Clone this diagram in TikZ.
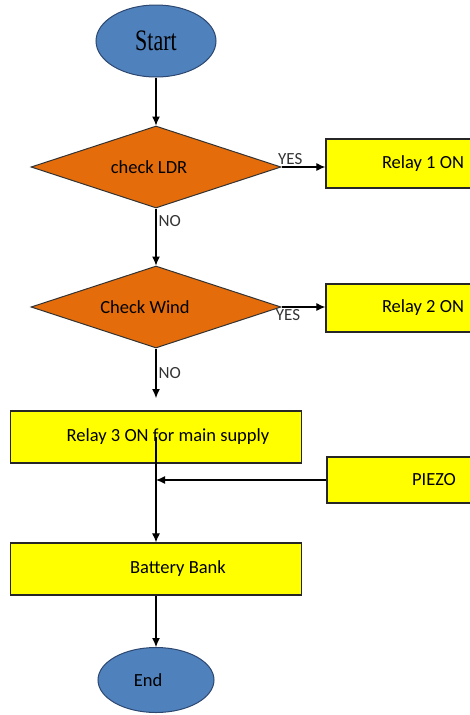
\documentclass[tikz,border=0pt]{standalone}
\usepackage{fontspec}
\setmainfont{Carlito}
\newfontfamily\startfont{Liberation Serif}
\usepackage{graphicx}
\usetikzlibrary{shapes.geometric,arrows.meta}
\definecolor{termblue}{HTML}{4F81BD}
\definecolor{termedge}{HTML}{2C4770}
\definecolor{deciorange}{HTML}{E46C0A}
\definecolor{boxyellow}{HTML}{FFFF00}
\newcommand\boxfont{\fontsize{18.5}{20}\selectfont}

\begin{document}
\begin{tikzpicture}[x=1pt, y=-1pt,
    terminal/.style={ellipse,draw=termedge,fill=termblue,line width=1pt,inner sep=0pt},
    decision/.style={diamond,draw=black!80,fill=deciorange,line width=1pt,inner sep=0pt,
      minimum width=250pt,minimum height=82pt,font=\boxfont},
    process/.style={rectangle,draw=black!85,fill=boxyellow,line width=1.3pt,inner sep=0pt,
      font=\boxfont},
    flow/.style={line width=1.1pt,draw=black},
    answer/.style={font=\fontsize{17}{19}\selectfont,text=black!80,inner sep=2pt},
    >={Latex[length=9pt,width=8pt]}
  ]
    \useasboundingbox (0,0) rectangle (470,715);
    \clip (0,0) rectangle (470,715);

    \node[terminal, minimum width=120pt, minimum height=72pt] (start) at (156,41)
      {\startfont\fontsize{22}{24}\selectfont\scalebox{1}[1.35]{Start}};
    \node[decision] (ldr) at (156,167) {\hspace*{-14pt}check LDR};
    \node[decision] (wind) at (156,307) {\hspace*{-22pt}Check Wind};

    \node[process, minimum width=194pt, minimum height=49pt] (relayA) at (423,163.5) {Relay 1 ON};
    \node[process, minimum width=194pt, minimum height=48pt] (relayB) at (423,308) {Relay 2 ON};
    \node[process, minimum width=291pt, minimum height=52pt] (relayC) at (156,437)
      {\hspace*{24pt}Relay 3 ON for main supply};
    \node[process, minimum width=214pt, minimum height=46pt] (piezo) at (434,480) {PIEZO};
    \node[process, minimum width=291pt, minimum height=52pt] (battery) at (156,569)
      {\hspace*{44pt}Battery Bank};
    \node[terminal, minimum width=116pt, minimum height=65pt] (end) at (156,680)
      {\boxfont End\hspace*{16pt}};

    \coordinate (nostop) at (156,398);
    \coordinate (join) at (156,480);

    \draw[flow, ->] (start) -- (ldr);
    \draw[flow, ->] (ldr.east) -- node[answer, pos=0.2, above]{YES} (ldr.east -| relayA.west);
    \draw[flow, ->] (ldr) -- node[answer, pos=0.08, right, anchor=north west]{NO} (wind);
    \draw[flow, ->] (wind.east) -- node[answer, pos=0.15, below]{YES} (wind.east -| relayB.west);
    \draw[flow, ->] (wind) -- node[answer, right]{NO} (nostop);

    \draw[flow, ->] (relayC.center) -- (battery.north);
    \draw[flow, ->] (piezo.west) -- (join);
    \draw[flow, ->] (battery) -- (end);

  \end{tikzpicture}
\end{document}
